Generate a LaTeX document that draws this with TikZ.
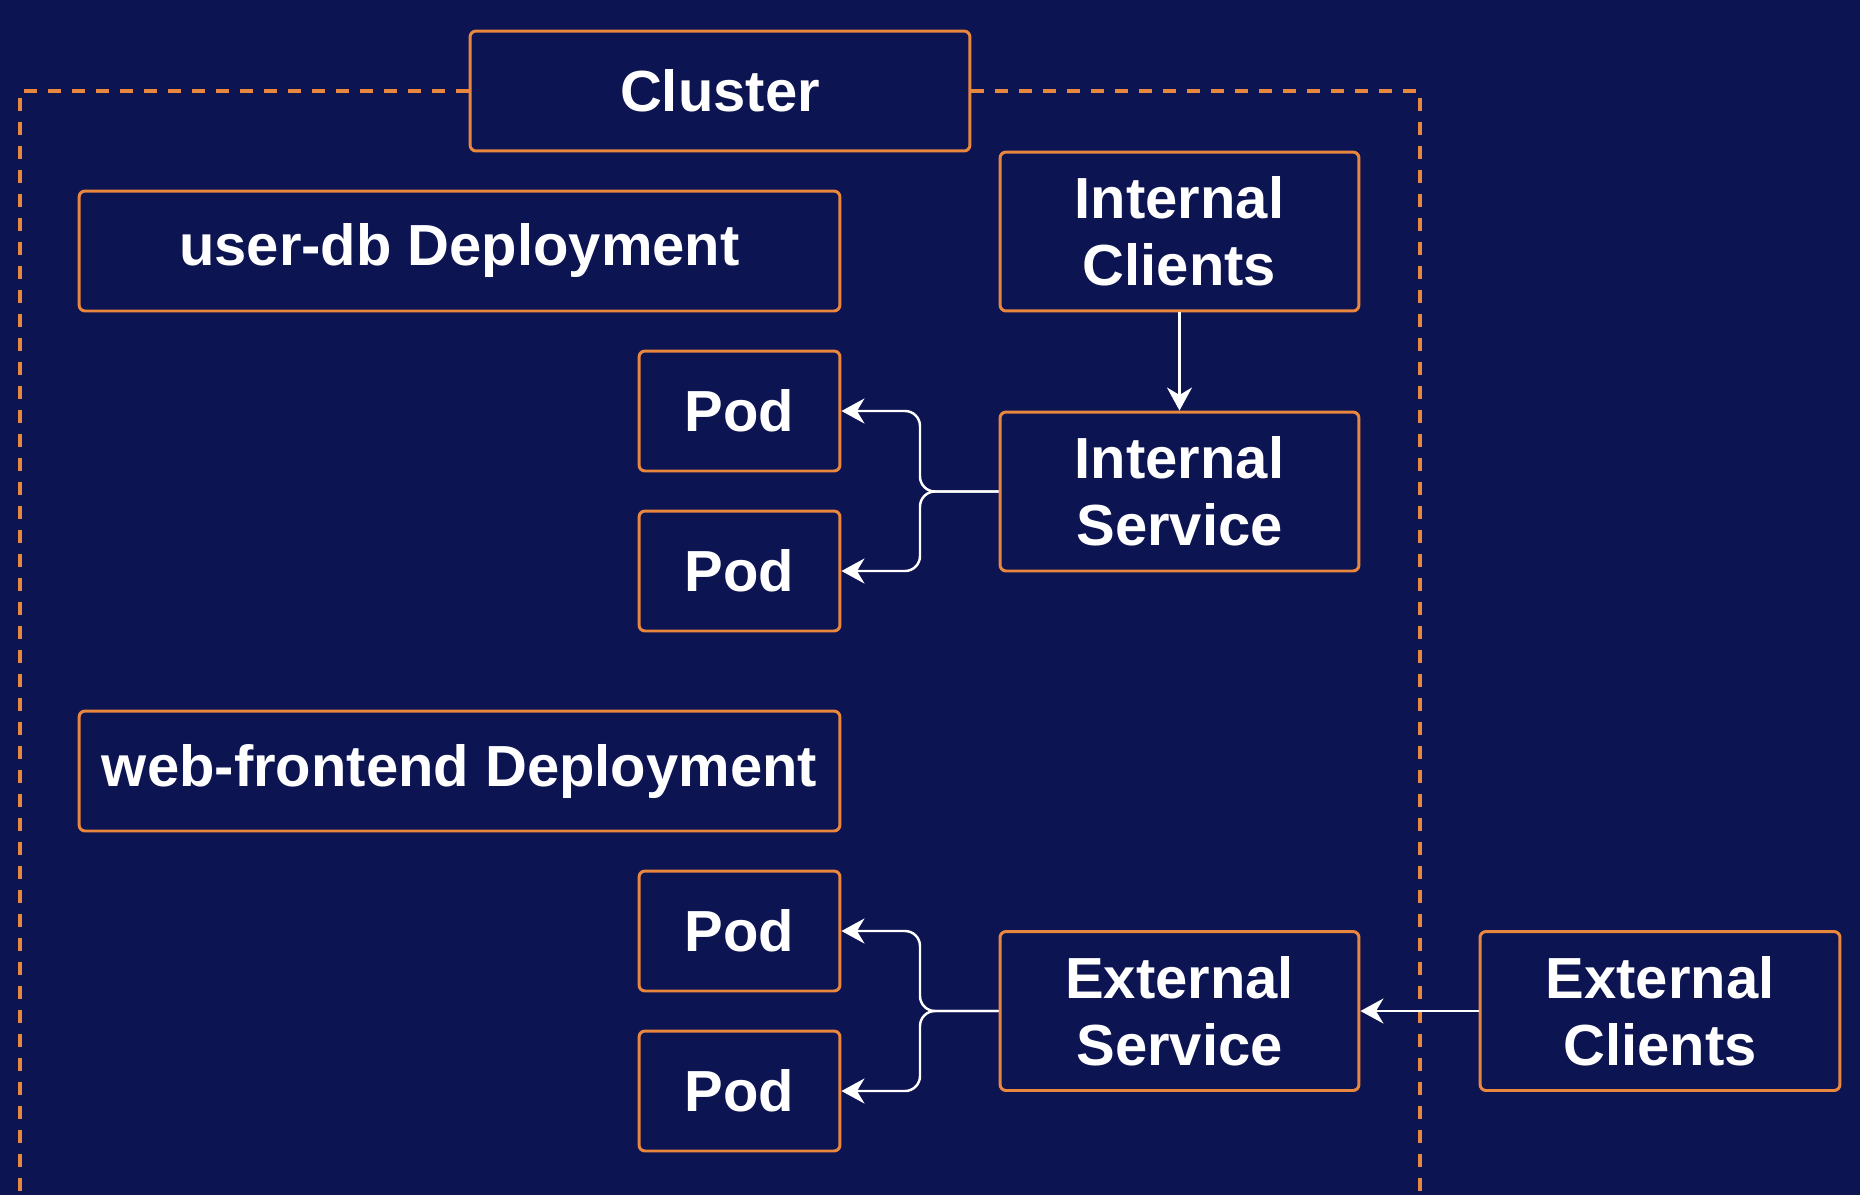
\documentclass[tikz,border=0pt]{standalone}
\usepackage{fontspec}
\setmainfont{Liberation Sans}
\usepackage{xcolor}
\usetikzlibrary{arrows.meta,positioning}

\begin{document}
\begin{tikzpicture}[x=0.02cm,y=-0.02cm,
  box/.style={draw=kborange,line width=1.7pt,rounded corners=0.12cm,fill=kbnavy,
    text=white,font=\fontsize{33}{38}\selectfont\bfseries,align=center,inner sep=0pt},
  wide/.style={box,minimum width=15.22cm,minimum height=2.4cm},
  tall/.style={box,minimum width=7.18cm,minimum height=3.18cm},
  flow/.style={draw=white,line width=1.4pt,rounded corners=0.3cm,
    -{Stealth[length=0.46cm,width=0.5cm]}},
  clusterline/.style={draw=kborange,line width=1.8pt,dash pattern=on 0.26cm off 0.22cm}]
% Colours: navy background, orange borders
\definecolor{kbnavy}{HTML}{0D1452}
\definecolor{kborange}{HTML}{E8873D}
\useasboundingbox (0,0) rectangle (1860,1194);
\fill[kbnavy] (-10,-10) rectangle (1870,1204);

% Cluster boundary (dashed, open at the bottom)
\node[box,minimum width=10cm,minimum height=2.4cm] (cluster) at (720,91) {Cluster};
\draw[clusterline] (cluster.west) -- (20,91) -- (20,1200);
\draw[clusterline] (cluster.east) -- (1420,91) -- (1420,1200);

% Deployments
\node[wide] (userdb) at (459.5,251) {user-db Deployment};
\node[wide] (webfe) at (459.5,771) {web-frontend Deployment};

% Pods - two per deployment
\foreach \y/\name in {411/poda,571/podb,931/podc,1091/podd} {
  \node[box,minimum width=4.02cm,minimum height=2.4cm] (\name) at (739.5,\y) {Pod};
}

% Services and clients
\node[tall] (iclients) at (1179.5,231.5) {Internal\\Clients};
\node[tall] (isvc) at (1179.5,491.5) {Internal\\Service};
\node[tall] (esvc) at (1179.5,1011) {External\\Service};
\node[tall,minimum width=7.2cm] (eclients) at (1660,1011) {External\\Clients};

% Traffic
\draw[flow] (iclients.south) -- (isvc.north);
\coordinate (ibranch) at (920,491.5);
\draw[flow] (isvc.west) -- (ibranch) |- (poda.east);
\draw[flow] (isvc.west) -- (ibranch) |- (podb.east);

\draw[flow] (eclients.west) -- (esvc.east);
\coordinate (ebranch) at (920,1011);
\draw[flow] (esvc.west) -- (ebranch) |- (podc.east);
\draw[flow] (esvc.west) -- (ebranch) |- (podd.east);
\end{tikzpicture}
\end{document}
